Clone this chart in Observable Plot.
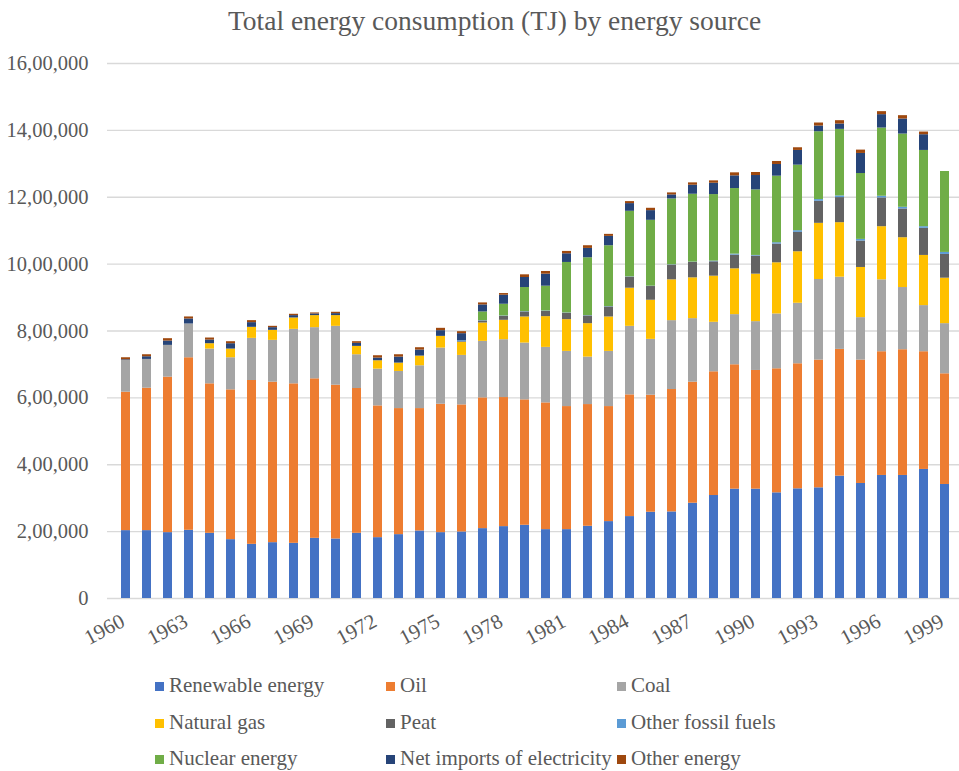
<!DOCTYPE html>
<html>
<head>
<meta charset="utf-8">
<script src="https://cdn.jsdelivr.net/npm/d3@7"></script>
<script src="https://cdn.jsdelivr.net/npm/@observablehq/plot@0.6"></script>
<style>
  html, body { margin: 0; padding: 0; background: #fff; }
  #wrap { position: relative; width: 959px; height: 771px; font-family: "Liberation Serif", "Times New Roman", serif; color: #595959; overflow: hidden; }
  #title { height: 42px; line-height: 42px; text-align: center; font-size: 27.5px; padding-left: 30px; margin-bottom: 3px; font-family: "Liberation Serif", serif; }
  #chart svg { display: block; }
  .leg { position: absolute; font-family: "Liberation Serif", "Times New Roman", serif; font-size: 21px; white-space: nowrap; line-height: 20px; color: #595959; }
  .sw { display: inline-block; width: 9px; height: 9px; margin-right: 5px; vertical-align: 1px; }
</style>
</head>
<body>
<div id="wrap">
  <div id="title">Total energy consumption (TJ) by energy source</div>
  <div id="chart"></div>
  <div id="legend"></div>
</div>
<script>
const years = d3.range(1960, 2000);
const tickYears = years.filter(y => (y - 1960) % 3 === 0);
const yTicks = [0, 200000, 400000, 600000, 800000, 1000000, 1200000, 1400000, 1600000];

const seriesNames = ["Renewable energy", "Oil", "Coal", "Natural gas", "Peat", "Other fossil fuels", "Nuclear energy", "Net imports of electricity", "Other energy"];
const seriesColors = ["#4472C4", "#ED7D31", "#A5A5A5", "#FFC000", "#636363", "#5B9BD5", "#70AD47", "#264478", "#9E480E"];

const renewable = [203000,203000,197000,204000,195000,176000,162000,167000,165000,180000,178000,195000,182000,191000,202000,197000,199000,209000,215000,219000,206000,206000,216000,230000,245000,258000,259000,285000,308000,327000,327000,316000,328000,331000,366000,344000,368000,368000,386000,341000];
const oil = [414000,426000,465000,516000,447000,448000,490000,480000,477000,477000,460000,433000,394000,377000,366000,384000,380000,391000,386000,375000,379000,368000,364000,344000,364000,350000,366000,362000,370000,372000,355000,371000,374000,382000,379000,369000,370000,376000,352000,331000];
const coal = [95000,86000,95000,101000,104000,96000,126000,125000,163000,153000,176000,101000,110000,111000,128000,168000,148000,169000,173000,170000,166000,165000,142000,165000,205000,167000,206000,190000,148000,150000,146000,164000,181000,241000,216000,127000,215000,186000,138000,150000];
const naturalGas = [0,0,0,0,16000,26000,33000,30000,34000,36000,32000,25000,25000,25000,29000,35000,39000,55000,58000,78000,92000,95000,100000,103000,114000,117000,122000,122000,138000,137000,142000,153000,154000,168000,163000,150000,159000,149000,150000,136000];
const peat = [0,0,0,0,0,0,0,0,0,0,0,0,0,0,0,0,2000,6000,12000,15000,16000,19000,23000,30000,33000,41000,44000,46000,43000,41000,54000,56000,58000,66000,75000,79000,86000,86000,81000,71000];
const otherFossil = [0,0,0,0,0,0,0,0,0,0,0,0,0,0,0,0,3000,1000,1000,1000,1000,1000,1000,1000,1000,1000,1000,1000,2000,3000,2000,4000,5000,5000,5000,5000,5000,5000,5000,6000];
const nuclear = [0,0,0,0,0,0,0,0,0,0,0,0,0,0,0,0,0,26000,35000,72000,74000,151000,173000,182000,196000,197000,197000,203000,199000,196000,196000,199000,196000,203000,199000,197000,204000,219000,228000,242000];
const netImports = [2000,8000,13000,15000,11000,16000,14000,8000,7000,5000,6000,9000,8000,18000,18000,17000,21000,21000,27000,30000,36000,26000,28000,28000,23000,29000,12000,27000,34000,38000,43000,35000,44000,17000,16000,60000,40000,45000,47000,0];
const otherEnergy = [6000,6000,7000,6000,6000,6000,6000,4000,4000,3000,4000,5000,7000,7000,7000,7000,6000,6000,5000,8000,8000,7000,8000,6000,6000,7000,6000,7000,7000,9000,9000,9000,8000,9000,10000,10000,9000,10000,8000,0];

const seriesValues = [renewable, oil, coal, naturalGas, peat, otherFossil, nuclear, netImports, otherEnergy];

const rows = [];
seriesNames.forEach((name, i) => {
  years.forEach((yr, j) => rows.push({ year: yr, series: name, value: seriesValues[i][j] }));
});

function indian(n) {
  const s = String(Math.round(n));
  if (s.length <= 3) return s;
  const last3 = s.slice(-3);
  let rest = s.slice(0, -3);
  const parts = [];
  while (rest.length > 2) { parts.unshift(rest.slice(-2)); rest = rest.slice(0, -2); }
  if (rest) parts.unshift(rest);
  return parts.join(",") + "," + last3;
}

const chart = Plot.plot({
  width: 959,
  height: 625,
  marginLeft: 107,
  marginRight: 0,
  marginTop: 18,
  marginBottom: 72,
  style: { fontFamily: "'Liberation Serif', 'Times New Roman', serif", fontSize: "20px", color: "#595959", background: "#fff", overflow: "visible" },
  x: { type: "band", domain: years, range: [107, 963], padding: 0.56 },
  y: { domain: [0, 1600000] },
  color: { domain: seriesNames, range: seriesColors },
  marks: [
    Plot.ruleY(yTicks, { y: d => d, stroke: "#d9d9d9", strokeWidth: 1.3 }),
    Plot.barY(rows, { x: "year", y: "value", fill: "series", order: seriesNames }),
    Plot.axisY({ ticks: yTicks, tickFormat: indian, tickSize: 0, tickPadding: 19, label: null, fontSize: 20.5 }),
    Plot.axisX({ ticks: tickYears, tickFormat: d => String(d), tickRotate: -28, tickSize: 0, tickPadding: 21, dx: -3, label: null, fontSize: 21 })
  ]
});
document.getElementById("chart").appendChild(chart);

const legend = document.getElementById("legend");
const colX = [155, 386, 617];
const rowY = [675, 712, 748];
seriesNames.forEach((name, i) => {
  const d = document.createElement("div");
  d.className = "leg";
  d.style.left = colX[i % 3] + "px";
  d.style.top = rowY[Math.floor(i / 3)] + "px";
  const sw = document.createElement("span");
  sw.className = "sw";
  sw.style.background = seriesColors[i];
  d.appendChild(sw);
  d.appendChild(document.createTextNode(name));
  legend.appendChild(d);
});
</script>
</body>
</html>
